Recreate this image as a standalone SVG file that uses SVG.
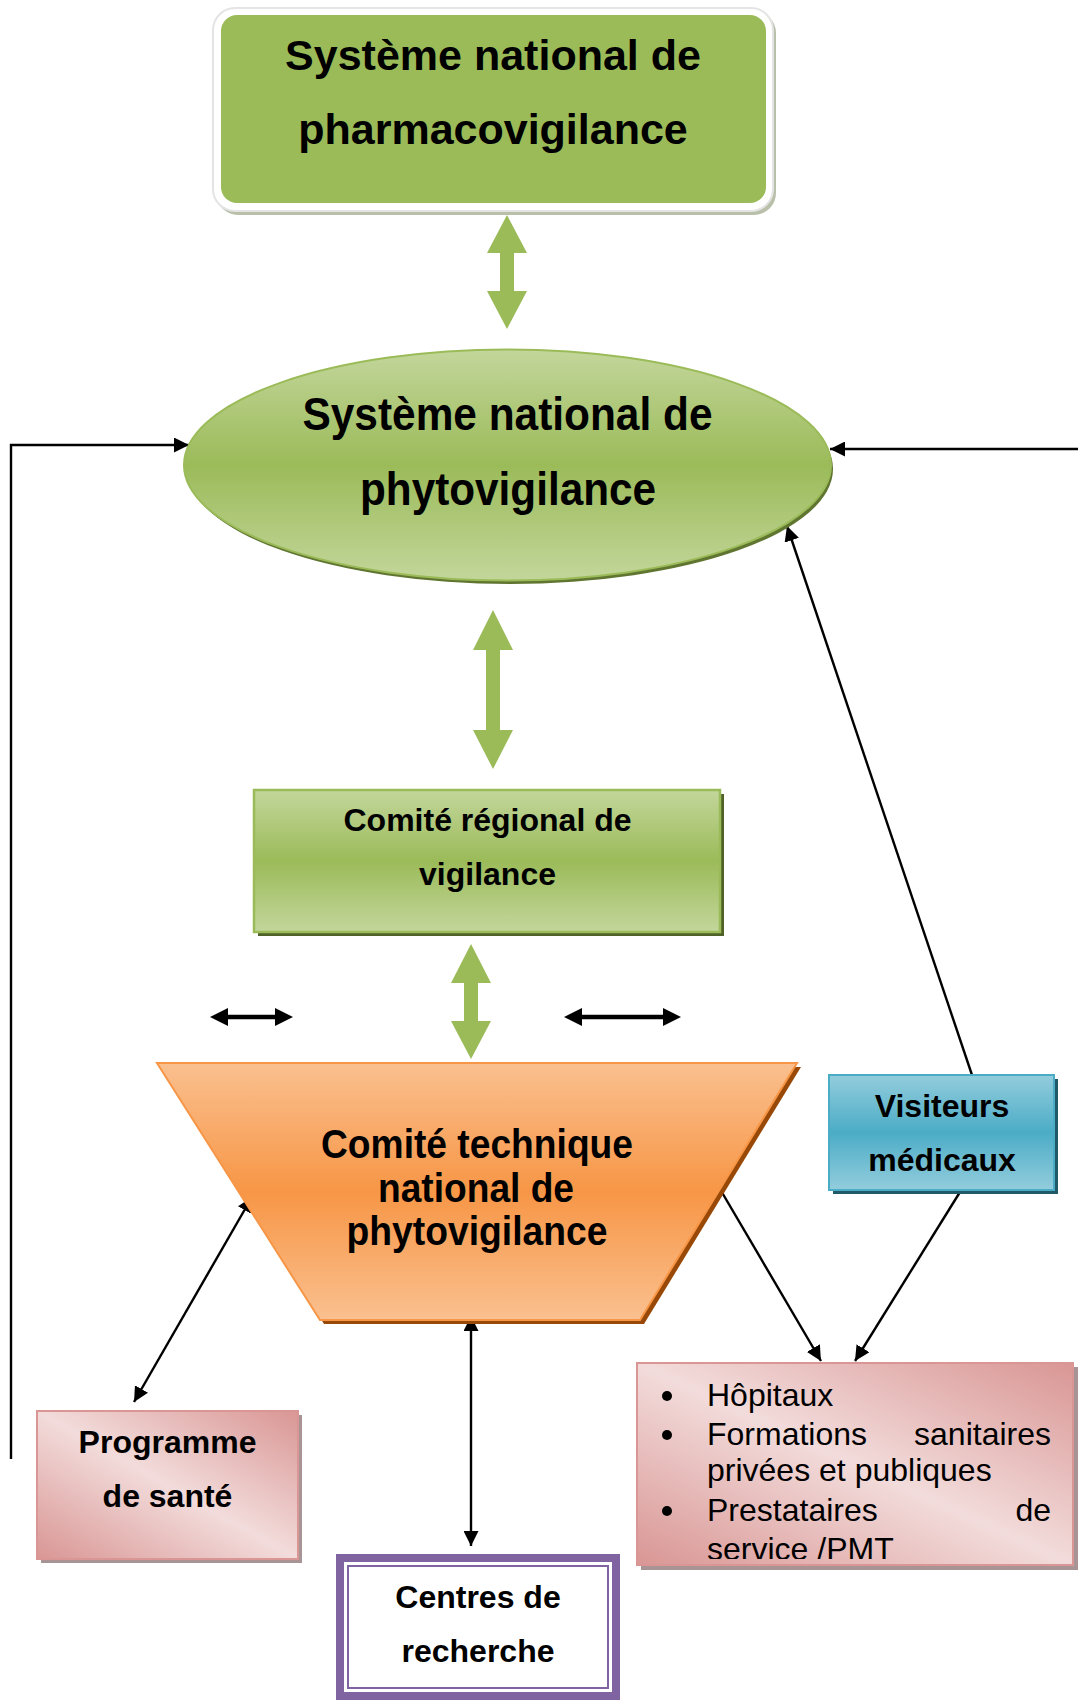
<svg xmlns="http://www.w3.org/2000/svg" width="1078" height="1700" viewBox="0 0 1078 1700">
  <defs>
    <linearGradient id="gGreen" x1="0" y1="0" x2="0" y2="1">
      <stop offset="0" stop-color="#c3d69b"/>
      <stop offset="0.5" stop-color="#9bbb59"/>
      <stop offset="1" stop-color="#c3d69b"/>
    </linearGradient>
    <linearGradient id="gOrange" x1="0" y1="0" x2="0" y2="1">
      <stop offset="0" stop-color="#fac08f"/>
      <stop offset="0.5" stop-color="#f79646"/>
      <stop offset="1" stop-color="#fac08f"/>
    </linearGradient>
    <linearGradient id="gBlue" x1="0" y1="0" x2="0" y2="1">
      <stop offset="0" stop-color="#93cddd"/>
      <stop offset="0.5" stop-color="#4bacc6"/>
      <stop offset="1" stop-color="#93cddd"/>
    </linearGradient>
    <linearGradient id="gPink" x1="0" y1="1" x2="1" y2="0">
      <stop offset="0" stop-color="#d99694"/>
      <stop offset="0.5" stop-color="#f2dcdb"/>
      <stop offset="1" stop-color="#d99694"/>
    </linearGradient>
    <marker id="ah" viewBox="0 0 15 15" refX="15" refY="7.5" markerWidth="15" markerHeight="15" markerUnits="userSpaceOnUse" orient="auto-start-reverse">
      <path d="M0,0 L15,7.5 L0,15 z" fill="#000"/>
    </marker>
    <clipPath id="clipHop">
      <rect x="637" y="1363" width="437" height="196"/>
    </clipPath>
  </defs>
  <style>
    .bold { font-family: "Liberation Sans", Arial, sans-serif; font-weight: bold; fill: #000; }
    .reg { font-family: "Liberation Sans", Arial, sans-serif; font-weight: normal; fill: #000; }
    .link { fill: none; stroke: #000; stroke-width: 2.4; }
    .greenArrow { fill: #9bbb59; }
  </style>

  <!-- connectors -->
  <g id="connectors">
    <!-- green double arrows between the stacked levels -->
    <polygon class="greenArrow" points="507,215 527,253 514,253 514,291 527,291 507,329 487,291 500,291 500,253 487,253"/>
    <polygon class="greenArrow" points="493,610 513,650 500,650 500,730 513,730 493,769 473,730 486,730 486,650 473,650"/>
    <polygon class="greenArrow" points="471,944 491,983 478,983 478,1021 491,1021 471,1059 451,1021 464,1021 464,983 451,983"/>

    <!-- left feedback loop and right incoming line -->
    <path class="link" d="M11,1459 L11,445 L189,445" marker-end="url(#ah)"/>
    <path class="link" d="M1078,449 L830,449" marker-end="url(#ah)"/>

    <!-- medical visitors up to the phytovigilance system -->
    <path class="link" d="M972,1075 L787,526" marker-end="url(#ah)"/>
    <!-- medical visitors down to the care facilities -->
    <path class="link" d="M960,1192 L855,1361" marker-end="url(#ah)"/>

    <!-- technical committee links -->
    <path class="link" d="M134,1402 L252,1197" marker-start="url(#ah)" marker-end="url(#ah)"/>
    <path class="link" d="M471,1316 L471,1546" marker-start="url(#ah)" marker-end="url(#ah)"/>
    <path class="link" d="M710,1172 L821,1361" marker-start="url(#ah)" marker-end="url(#ah)"/>

    <!-- short horizontal double arrows -->
    <g fill="#000" stroke="#000">
      <line x1="226" y1="1017" x2="277" y2="1017" stroke-width="4.5"/>
      <polygon points="210,1017 228,1008 228,1026" stroke="none"/>
      <polygon points="293,1017 275,1008 275,1026" stroke="none"/>
      <line x1="580" y1="1017" x2="665" y2="1017" stroke-width="4.5"/>
      <polygon points="564,1017 582,1008 582,1026" stroke="none"/>
      <polygon points="681,1017 663,1008 663,1026" stroke="none"/>
    </g>
  </g>

  <!-- national pharmacovigilance system -->
  <g id="node-pharmaco">
    <rect x="216" y="11" width="560" height="204" rx="22" fill="#b9c0aa"/>
    <rect x="213" y="8" width="560" height="203" rx="22" fill="#ffffff" stroke="#e4e4e4" stroke-width="2"/>
    <rect x="221" y="15" width="545" height="188" rx="16" fill="#9bbb59"/>
    <text class="bold" x="493" y="70" font-size="43" text-anchor="middle">Système national de</text>
    <text class="bold" x="493" y="144" font-size="43" text-anchor="middle">pharmacovigilance</text>
  </g>

  <!-- national phytovigilance system -->
  <g id="node-phyto">
    <ellipse cx="510" cy="469" rx="323" ry="115" fill="#5f7530"/>
    <ellipse cx="507.5" cy="465" rx="323.5" ry="115.5" fill="url(#gGreen)" stroke="#9bbb59" stroke-width="2"/>
    <text class="bold" x="507.5" y="430" font-size="46" text-anchor="middle" textLength="410" lengthAdjust="spacingAndGlyphs">Système national de</text>
    <text class="bold" x="508" y="505" font-size="46" text-anchor="middle" textLength="296" lengthAdjust="spacingAndGlyphs">phytovigilance</text>
  </g>

  <!-- regional vigilance committee -->
  <g id="node-regional">
    <rect x="258" y="794" width="466" height="142" fill="#4f6228"/>
    <rect x="254" y="790" width="466" height="142" fill="url(#gGreen)" stroke="#9bbb59" stroke-width="2.5"/>
    <text class="bold" x="487.5" y="831" font-size="32" text-anchor="middle">Comité régional de</text>
    <text class="bold" x="487.5" y="885" font-size="32" text-anchor="middle">vigilance</text>
  </g>

  <!-- national technical committee -->
  <g id="node-technique">
    <polygon points="161,1067 801,1067 644,1324 324,1324" fill="#984807"/>
    <polygon points="157,1063 797,1063 640,1320 320,1320" fill="url(#gOrange)" stroke="#f79646" stroke-width="2"/>
    <text class="bold" x="477" y="1158" font-size="40" text-anchor="middle" textLength="312" lengthAdjust="spacingAndGlyphs">Comité technique</text>
    <text class="bold" x="476" y="1202" font-size="40" text-anchor="middle" textLength="196" lengthAdjust="spacingAndGlyphs">national de</text>
    <text class="bold" x="477" y="1245" font-size="40" text-anchor="middle" textLength="261" lengthAdjust="spacingAndGlyphs">phytovigilance</text>
  </g>

  <!-- medical visitors -->
  <g id="node-visiteurs">
    <rect x="833" y="1079" width="225" height="115" fill="#215968"/>
    <rect x="829" y="1075" width="225" height="115" fill="url(#gBlue)" stroke="#4bacc6" stroke-width="2"/>
    <text class="bold" x="942" y="1117" font-size="32" text-anchor="middle">Visiteurs</text>
    <text class="bold" x="942" y="1171" font-size="32" text-anchor="middle">médicaux</text>
  </g>

  <!-- health programme -->
  <g id="node-programme">
    <rect x="41" y="1415" width="261" height="148" fill="#a89494"/>
    <rect x="37" y="1411" width="261" height="148" fill="url(#gPink)" stroke="#d99694" stroke-width="2"/>
    <text class="bold" x="167.5" y="1453" font-size="32" text-anchor="middle">Programme</text>
    <text class="bold" x="167.5" y="1507" font-size="32" text-anchor="middle">de santé</text>
  </g>

  <!-- care facilities -->
  <g id="node-hopitaux">
    <rect x="641" y="1367" width="437" height="203" fill="#a89494"/>
    <rect x="637" y="1363" width="436" height="202" fill="url(#gPink)" stroke="#d99694" stroke-width="2"/>
    <g fill="#000">
      <circle cx="667" cy="1396" r="5"/>
      <circle cx="667" cy="1435" r="5"/>
      <circle cx="667" cy="1511" r="5"/>
    </g>
    <g class="reg" font-size="32" clip-path="url(#clipHop)">
      <text x="707" y="1406">Hôpitaux</text>
      <text x="707" y="1445">Formations</text>
      <text x="1051" y="1445" text-anchor="end">sanitaires</text>
      <text x="707" y="1481">privées et publiques</text>
      <text x="707" y="1521">Prestataires</text>
      <text x="1051" y="1521" text-anchor="end">de</text>
      <text x="707" y="1560">service /PMT</text>
    </g>
  </g>

  <!-- research centres -->
  <g id="node-recherche">
    <rect x="340" y="1558" width="276" height="138" fill="#ffffff" stroke="#8064a2" stroke-width="8"/>
    <rect x="348" y="1566" width="260" height="122" fill="none" stroke="#8064a2" stroke-width="2"/>
    <text class="bold" x="478" y="1608" font-size="32" text-anchor="middle">Centres de</text>
    <text class="bold" x="478" y="1662" font-size="32" text-anchor="middle">recherche</text>
  </g>
</svg>
